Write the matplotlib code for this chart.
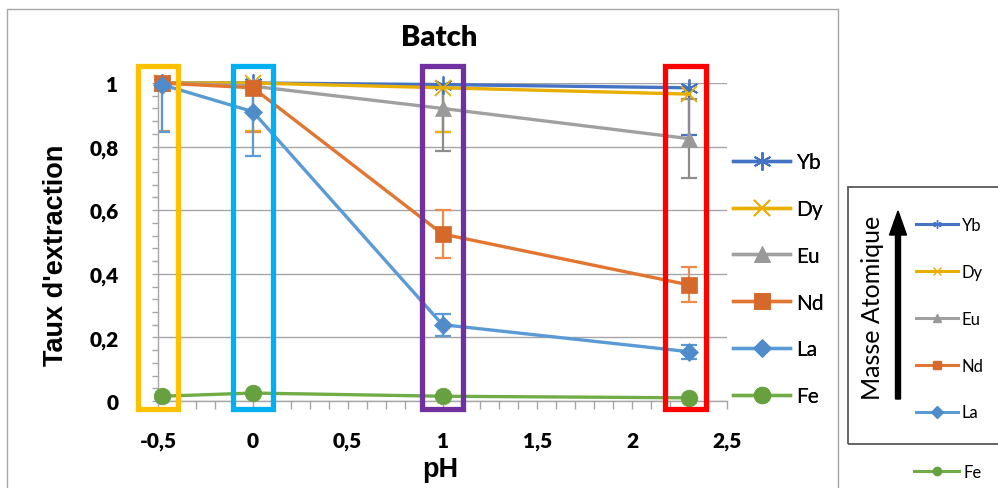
import matplotlib
matplotlib.use('Agg')
import matplotlib.pyplot as plt
from matplotlib.patches import Rectangle, FancyArrow
from matplotlib.lines import Line2D
from matplotlib.ticker import MultipleLocator

# ---------------- data ----------------
ph = [-0.48, 0.0, 1.0, 2.3]
labels = ['Yb', 'Dy', 'Eu', 'Nd', 'La', 'Fe']
yb = [1.0, 1.0, 0.995, 0.985]
dy = [1.0, 1.0, 0.985, 0.965]
eu = [1.0, 0.99, 0.92, 0.825]
nd = [1.0, 0.985, 0.525, 0.365]
la = [0.995, 0.91, 0.24, 0.155]
fe = [0.015, 0.025, 0.015, 0.01]

yb_err = [0, 0, 0.15, 0.15]
dy_err = [0, 0.15, 0.14, 0]
eu_err = [0, 0, 0.135, 0.125]
nd_err = [0.15, 0.14, 0.075, 0.055]
la_err = [0.15, 0.14, 0.035, 0.022]
fe_err = [0, 0, 0, 0]

box_ph = [-0.5, 0.0, 1.0, 2.28]
box_colors = ['#FFC000', '#00B0F0', '#7030A0', '#FF0000']

x_ticks = [-0.5, 0, 0.5, 1, 1.5, 2, 2.5]
x_ticklabels = ['-0,5', '0', '0,5', '1', '1,5', '2', '2,5']
y_ticks = [0, 0.2, 0.4, 0.6, 0.8, 1.0]
y_ticklabels = ['0', '0,2', '0,4', '0,6', '0,8', '1']

# ---------------- styles ----------------
series = [yb, dy, eu, nd, la, fe]
errors = [yb_err, dy_err, eu_err, nd_err, la_err, fe_err]
line_colors = ['#4472C4', '#E8AE00', '#A0A0A0', '#E2752F', '#5B9BD5', '#70AD47']
marker_colors = ['#4472C4', '#E8AE00', '#999999', '#D5692B', '#4F8CC9', '#66A03F']
err_colors = ['#4472C4', '#F0B400', '#8C8C8C', '#F08A48', '#5B9BD5', '#70AD47']
markers = [(6, 2, 0), 'x', '^', 's', 'D', 'o']
msizes = [13, 11, 12, 12, 9, 12]

W, H = 998, 489
fig = plt.figure(figsize=(W / 100, H / 100), dpi=100)
ax = fig.add_axes([158 / W, 1 - 402 / H, (727 - 158) / W, (402 - 84) / H])

FONT = 'Lato'

handles = []
for i, (vals, err) in enumerate(zip(series, errors)):
    idx = [k for k in range(len(ph)) if err[k] > 0]
    if idx:
        ax.errorbar([ph[k] for k in idx], [vals[k] for k in idx],
                    yerr=[err[k] for k in idx], fmt='none',
                    ecolor=err_colors[i], elinewidth=1.6, capsize=5.5,
                    capthick=1.6, zorder=2 + i * 0.1)
    mk = markers[i]
    filled = mk not in ('x', (6, 2, 0))
    ln, = ax.plot(ph, vals, color=line_colors[i], lw=2.4, marker=mk,
                  markersize=msizes[i],
                  markerfacecolor=marker_colors[i] if filled else 'none',
                  markeredgecolor=marker_colors[i],
                  markeredgewidth=1.3 if not filled else 0.5,
                  clip_on=False, zorder=3 + i * 0.1, label=labels[i])
    handles.append(ln)

# highlight boxes
for bx, bc in zip(box_ph, box_colors):
    ax.add_patch(Rectangle((bx - 0.107, -0.024), 0.214, 1.076,
                           fill=False, edgecolor=bc, lw=3.8,
                           clip_on=False, zorder=10))

ax.set_xlim(-0.5, 2.5)
ax.set_ylim(0, 1.0)
ax.set_xticks(x_ticks)
ax.set_xticklabels(x_ticklabels)
ax.set_yticks(y_ticks)
ax.set_yticklabels(y_ticklabels)
ax.xaxis.set_minor_locator(MultipleLocator(0.1))
ax.yaxis.set_minor_locator(MultipleLocator(0.04))
axis_col = '#A6A6A6'
for s in ['top', 'right']:
    ax.spines[s].set_visible(False)
for s in ['left', 'bottom']:
    ax.spines[s].set_color(axis_col)
    ax.spines[s].set_linewidth(1.0)
ax.yaxis.grid(True, which='major', color=axis_col, lw=1.0)
ax.set_axisbelow(True)
ax.tick_params(axis='x', which='both', direction='out', length=5.5,
               color=axis_col, width=1.0)
ax.tick_params(axis='y', which='both', direction='out', length=4.5,
               color=axis_col, width=1.0)
ax.tick_params(axis='x', which='major', pad=16)
ax.tick_params(axis='y', which='major', pad=24)
for t in ax.get_xticklabels() + ax.get_yticklabels():
    t.set_fontfamily(FONT)
    t.set_fontweight('heavy')
    t.set_fontsize(15)

# title and axis labels
fig.text(439 / W, 1 - 38 / H, 'Batch', fontsize=21, fontweight='heavy',
         family=FONT, ha='center', va='center')
fig.text(56 / W, 1 - 255 / H, "Taux d'extraction", rotation=90, fontsize=19.5,
         fontweight='bold', family='Liberation Sans', ha='center', va='center')
fig.text(440 / W, 1 - 470 / H, 'pH', fontsize=19.5, fontweight='bold',
         family='Liberation Sans', ha='center', va='center')

# main legend
leg = ax.legend(handles, labels, loc='upper left',
                bbox_to_anchor=(733 / W, 1 - 153 / H),
                bbox_transform=fig.transFigure, frameon=False,
                prop={'family': FONT, 'size': 15}, handlelength=2.75,
                labelspacing=1.29, handletextpad=0.3, borderaxespad=0,
                borderpad=0)
ax.add_artist(leg)

# chart frame
fig.add_artist(Rectangle((7 / W, -0.1), (838 - 7) / W, 1.1 - 10 / H,
                         transform=fig.transFigure, fill=False,
                         edgecolor='#A6A6A6', lw=1.0, clip_on=False))

# second (atomic mass) box
fig.add_artist(Rectangle((848 / W, 1 - 445 / H), 0.2, (445 - 188) / H,
                         transform=fig.transFigure, fill=False,
                         edgecolor='#595959', lw=1.3, clip_on=False))
fig.text(873 / W, 1 - 308 / H, 'Masse Atomique', rotation=90, fontsize=18,
         family=FONT, ha='center', va='center')
fig.add_artist(FancyArrow(898 / W, 1 - 400 / H, 0, (400 - 236) / H,
                          width=5 / W, head_width=17 / W,
                          head_length=24 / H, length_includes_head=False,
                          transform=fig.transFigure, color='black'))

small = []
for i in range(6):
    mk = markers[i]
    filled = mk not in ('x', (6, 2, 0))
    small.append(Line2D([], [], color=line_colors[i], lw=2.2, marker=mk,
                        markersize=6,
                        markerfacecolor=marker_colors[i] if filled else 'none',
                        markeredgecolor=marker_colors[i], markeredgewidth=1.0))
fig.legend(small[:5], labels[:5], loc='upper left',
           bbox_to_anchor=(916 / W, 1 - 218 / H), frameon=False,
           prop={'family': FONT, 'size': 12}, handlelength=2.5,
           labelspacing=1.85, handletextpad=0.25, borderaxespad=0, borderpad=0)
fig.legend(small[5:], labels[5:], loc='upper left',
           bbox_to_anchor=(914 / W, 1 - 465 / H), frameon=False,
           prop={'family': FONT, 'size': 12}, handlelength=2.7,
           handletextpad=0.25, borderaxespad=0, borderpad=0)

fig.savefig('out.png', dpi=100)
